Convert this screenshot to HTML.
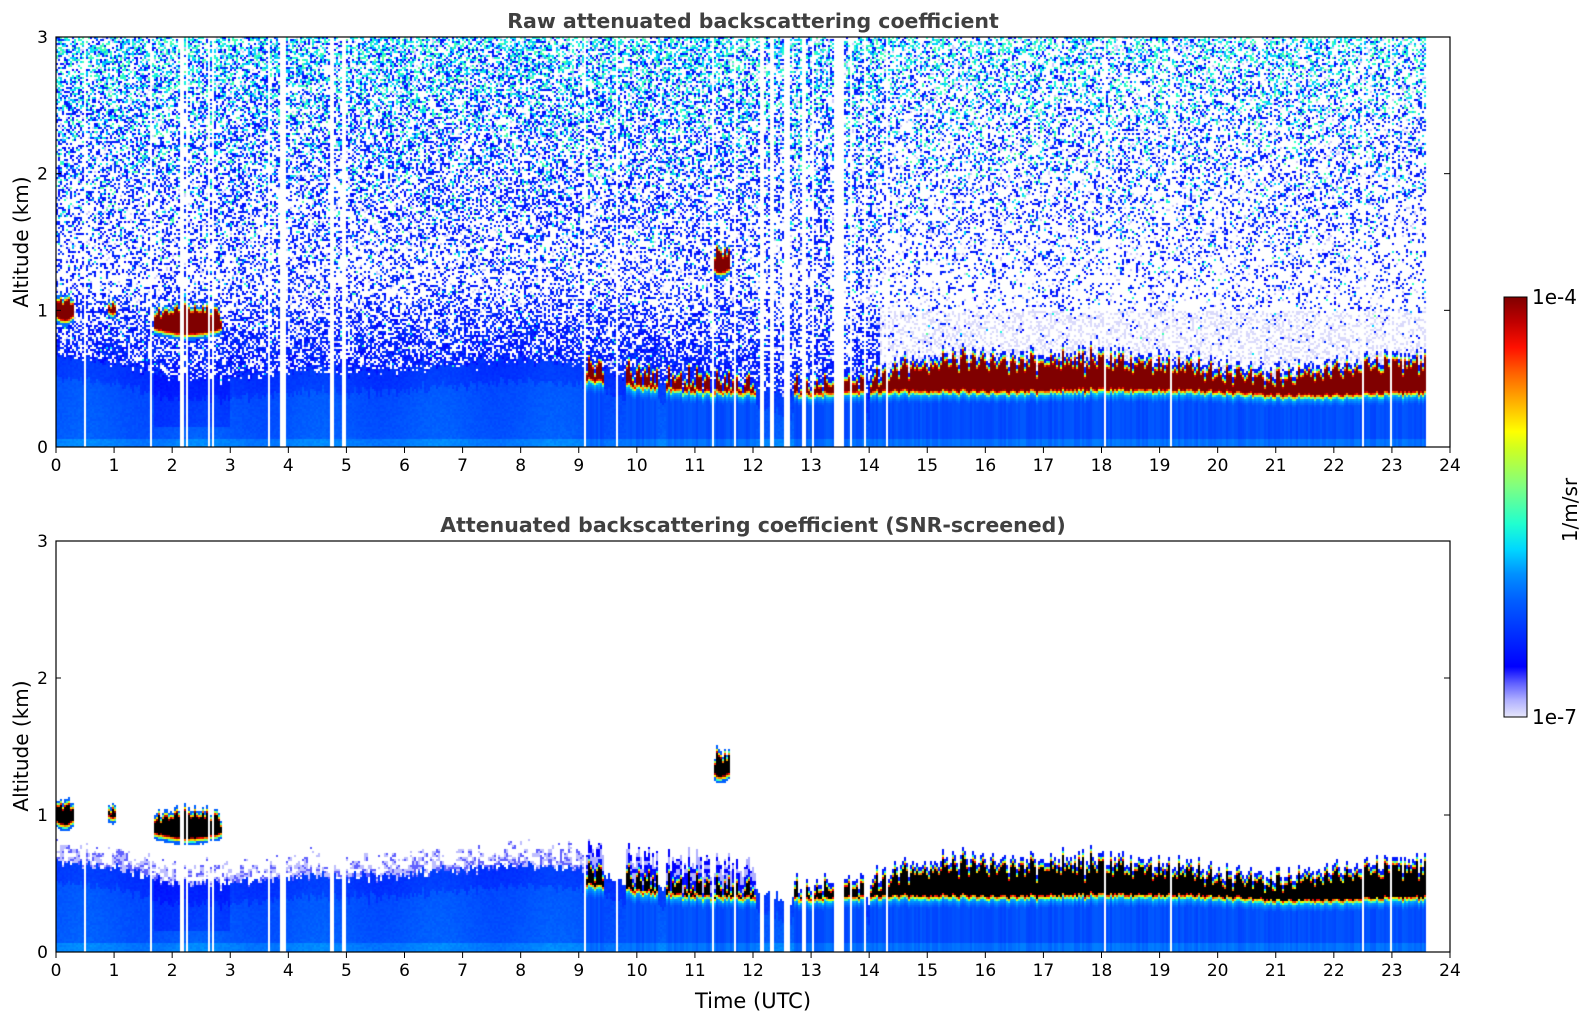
<!DOCTYPE html>
<html><head><meta charset="utf-8">
<style>
html,body{margin:0;padding:0;background:#fff;}
body{width:1595px;height:1020px;position:relative;overflow:hidden;font-family:"DejaVu Sans","Liberation Sans",sans-serif;}
canvas{position:absolute;}
</style></head>
<body>
<canvas id="c1" width="1394" height="410" style="left:56px;top:37px"></canvas>
<canvas id="c2" width="1394" height="411" style="left:56px;top:541px"></canvas>
<svg id="ov" width="1595" height="1020" style="position:absolute;left:0;top:0">
<defs>
<linearGradient id="cbg" x1="0" y1="1" x2="0" y2="0">
<stop offset="0" stop-color="#e6e6fa"/><stop offset="0.04" stop-color="#b0b0ff"/><stop offset="0.08" stop-color="#6060ff"/><stop offset="0.12" stop-color="#0000ff"/><stop offset="0.2" stop-color="#0030ff"/><stop offset="0.28" stop-color="#0060ff"/><stop offset="0.34" stop-color="#0090ff"/><stop offset="0.4" stop-color="#00d8ff"/><stop offset="0.46" stop-color="#20ffd0"/><stop offset="0.55" stop-color="#80ff80"/><stop offset="0.64" stop-color="#d0ff20"/><stop offset="0.68" stop-color="#ffff00"/><stop offset="0.75" stop-color="#ffb000"/><stop offset="0.82" stop-color="#ff6000"/><stop offset="0.88" stop-color="#ff1000"/><stop offset="0.94" stop-color="#c00000"/><stop offset="1" stop-color="#800000"/>
</linearGradient></defs>
<rect x="1504" y="297" width="23" height="420" fill="url(#cbg)" stroke="#000" stroke-width="1"/>
<text x="1532" y="304" font-size="20" font-family="DejaVu Sans, sans-serif">1e-4</text>
<text x="1532" y="724" font-size="20" font-family="DejaVu Sans, sans-serif">1e-7</text>
<text x="1577" y="510" font-size="20" font-family="DejaVu Sans, sans-serif" transform="rotate(-90 1577 510)" text-anchor="middle">1/m/sr</text>
<text x="753" y="28" font-size="20.5" font-weight="bold" fill="#404040" text-anchor="middle" font-family="DejaVu Sans, sans-serif">Raw attenuated backscattering coefficient</text>
<text x="753" y="532" font-size="20.5" font-weight="bold" fill="#404040" text-anchor="middle" font-family="DejaVu Sans, sans-serif">Attenuated backscattering coefficient (SNR-screened)</text>
<text x="28" y="242" font-size="20" text-anchor="middle" transform="rotate(-90 28 242)" font-family="DejaVu Sans, sans-serif">Altitude (km)</text>
<text x="28" y="746" font-size="20" text-anchor="middle" transform="rotate(-90 28 746)" font-family="DejaVu Sans, sans-serif">Altitude (km)</text>
<text x="753" y="1008" font-size="21" text-anchor="middle" font-family="DejaVu Sans, sans-serif">Time (UTC)</text>
<g id="axes"></g>
</svg>
<script>
// ---- data ----
const hours = [0,1,2,3,4,5,6,7,8,9,10,11,12,13,14,15,16,17,18,19,20,21,22,23,24];
const blTop = [0.66,0.62,0.5,0.5,0.55,0.55,0.56,0.6,0.63,0.6,0.5,0.45,0.42,0.38,0.38,0.42,0.42,0.42,0.42,0.42,0.4,0.37,0.37,0.38,0.38];
const lowCloudBase = [0,0,0,0,0,0,0,0,0,0.47,0.42,0.38,0.37,0.36,0.38,0.38,0.38,0.38,0.39,0.39,0.38,0.35,0.35,0.37,0.37];
const lowCloudTop = [0,0,0,0,0,0,0,0,0,0.6,0.56,0.5,0.48,0.47,0.52,0.62,0.66,0.63,0.64,0.63,0.57,0.52,0.58,0.63,0.63];
const lowCloudSpans = [[9.1,9.45],[9.8,10.35],[10.5,12.05],[12.7,13.95],[14.0,23.6]];
const elevStart = [0.0,0.9,1.7,11.3];
const elevEnd = [0.3,1.05,2.85,11.6];
const elevBase = [0.9,0.95,0.8,1.25];
const elevTop = [1.1,1.08,1.03,1.45];
const gapStart = [3.85,4.73,4.93,12.12,12.3,12.55,12.85,13.0,13.4,13.68,13.9];
const gapEnd = [3.97,4.8,4.99,12.2,12.35,12.62,12.9,13.05,13.55,13.72,13.95];
const thinGaps = [0.5,1.65,2.15,2.2,2.25,2.65,2.7,3.68,9.1,9.65,11.3,11.7,14.3,18.05,19.2,22.5,23.0];
const dataEnd = 23.6;
const xTicks = [0,1,2,3,4,5,6,7,8,9,10,11,12,13,14,15,16,17,18,19,20,21,22,23,24];
const yTicks = [0,1,2,3];

// ---- colormap ----
const cmStops=[[0,[230,230,250]],[0.04,[176,176,255]],[0.08,[96,96,255]],[0.12,[0,0,255]],[0.2,[0,48,255]],[0.28,[0,96,255]],[0.34,[0,144,255]],[0.4,[0,216,255]],[0.46,[32,255,208]],[0.55,[128,255,128]],[0.64,[208,255,32]],[0.68,[255,255,0]],[0.75,[255,176,0]],[0.82,[255,96,0]],[0.88,[255,16,0]],[0.94,[192,0,0]],[1,[128,0,0]]];
function cmap(v){ if(v>1.05) return [0,0,0]; v=Math.max(0,Math.min(1,v));
 for(let i=1;i<cmStops.length;i++){ if(v<=cmStops[i][0]){const a=cmStops[i-1],b=cmStops[i];const f=(v-a[0])/(b[0]-a[0]);return [0,1,2].map(k=>Math.round(a[1][k]+f*(b[1][k]-a[1][k])));}} return [128,0,0];}
function interp(arr,t){const i=Math.max(0,Math.min(23,Math.floor(t)));const f=t-i;return arr[i]*(1-f)+arr[i+1]*f;}
function hash(a,b){let h=(a*374761393+b*668265263)^0x5bd1e995;h=Math.imul(h^(h>>>13),1274126177);h=h^(h>>>16);return ((h>>>0)%10000)/10000;}

const X0=56,PW=1394;
function xs(t){return t/24*PW;}
function ys(z,H){return H-z/3*H;}

function value(t,z,i,j,snr){
  if(t>dataEnd) return null;
  for(let k=0;k<gapStart.length;k++) if(t>=gapStart[k]&&t<=gapEnd[k]) return null;
  const rough=0.02*Math.sin(t*37.1)+0.015*Math.sin(t*91.7+1)+0.05*(hash(i,7)-0.5);
  for(let k=0;k<elevStart.length;k++){
    if(t>=elevStart[k]&&t<=elevEnd[k]){
      const m=(elevBase[k]+elevTop[k])/2, hh=(elevTop[k]-elevBase[k])/2;
      const fr=(t-elevStart[k])/(elevEnd[k]-elevStart[k]);
      const shape=0.65+0.35*Math.sin(fr*Math.PI);
      const d=hh*shape+rough*0.6-Math.abs(z-m-rough*0.5);
      if(d>-0.02){ if(d<0) return snr?0.28:0.3; const v=0.45+d/0.03*0.55; return (snr&&d>0.03)?2:Math.min(1,v);}
    }
  }
  let inSpan=false; for(const s of lowCloudSpans) if(t>=s[0]&&t<=s[1]) inSpan=true;
  const bl=interp(blTop,t)+rough;
  if(inSpan){
    const cb=interp(lowCloudBase,t)+rough*0.4, ct=interp(lowCloudTop,t)+rough*2.0;
    if(z>=cb&&z<=ct){const d=Math.min(z-cb,ct-z);const v=0.42+d/0.035*0.58;return (snr&&d>0.03)?2:Math.min(1,v);}
    if(z<cb){const f=z/cb; return 0.25+(f>0.85?0.12*(f-0.85)/0.15:0)+0.04*(hash(i,3)-0.5)+(z<0.06?0.05:0);}
    if(z<ct+0.03) return 0.16;
    if(snr){ if(t<12.5&&z<ct+0.15) return hash(i>>1,j>>1)<0.5?0.12:0.04; return null;}
  } else if(z<bl){
    let v=0.25+0.02*(1-z/bl)+0.025*(hash(i,j)-0.5)+0.015*Math.sin(t*3.1);
    if(z<0.06) v+=0.05;
    if(t>1.7&&t<3&&z>0.15) v-=0.05;
    if(z>bl-0.15) v-=0.04;
    return v;
  }
  if(snr){
    if(t<9.2&&z<bl+0.18){const p=1-(z-bl)/0.18; return hash(i>>1,j>>1)<p*0.8?(hash(i,j)<0.4?0.08:0.03):null;}
    return null;
  }
  let p;
  if(t<14.2){ p= z<1.2?0.7-0.42*(z-bl)/(1.2-bl):0.28+0.26*(z-1.2)/1.8; }
  else { p= z<1.0?0.04:0.12+0.3*(z-1.0)/2.0; }
  const r=hash(i,j);
  if(r<p){ const r2=hash(j,i+11); const top=Math.pow(z/3,2.5);
    if(r2<top*0.7) return 0.36+0.16*hash(i+5,j);
    return 0.12+0.1*hash(i+3,j+9); }
  if(t>=14.2&&z<1.0&&r<0.35) return 0.01;
  if(r<p+0.04) return 0.02;
  return null;
}
function draw(id,snr){
  const c=document.getElementById(id),ctx=c.getContext('2d');const W=c.width,H=c.height;
  const img=ctx.createImageData(W,H);const d=img.data;d.fill(255);
  const cw=2,ch=2;
  for(let i=0;i*cw<W;i++){const t=(i*cw+1)/W*24;
    let thin=false; for(const g of thinGaps) if(Math.abs(t-g)<0.017) thin=true;
    for(let j=0;j*ch<H;j++){const z=3-(j*ch+1)/H*3;
      if(thin) continue;
      const v=value(t,z,i,j,snr); if(v===null) continue;
      const col=cmap(v);
      for(let a=0;a<cw;a++)for(let b=0;b<ch;b++){const x=i*cw+a,y=j*ch+b;if(x>=W||y>=H)continue;const o=(y*W+x)*4;d[o]=col[0];d[o+1]=col[1];d[o+2]=col[2];d[o+3]=255;}
    }}
  ctx.putImageData(img,0,0);
}
draw('c1',false);draw('c2',true);

const g=document.getElementById('axes');const NS='http://www.w3.org/2000/svg';
function mk(tag,attrs,txt){const e=document.createElementNS(NS,tag);for(const k in attrs)e.setAttribute(k,attrs[k]);if(txt!==undefined)e.textContent=txt;g.appendChild(e);return e;}
[[37,410,'top'],[541,411,'bottom']].forEach(([top,H,nm])=>{
  const fr=mk('rect',{x:X0,y:top,width:PW,height:H,fill:'none',stroke:'#000','stroke-width':1.2});
  
  
  xTicks.forEach(v=>{const x=X0+xs(v);
    const l=mk('line',{x1:x,x2:x,y1:top+H,y2:top+H+6,stroke:'#000','stroke-width':1});
    
    
    const tx=mk('text',{x:x,y:top+H+24,'font-size':17,'text-anchor':'middle','font-family':'DejaVu Sans, sans-serif'},String(v));
    
    
  });
  yTicks.forEach(v=>{const y=top+ys(v,H);
    const l=mk('line',{x1:X0+PW-6,x2:X0+PW,y1:y,y2:y,stroke:'#000','stroke-width':1});
    
    
    const l2=mk('line',{x1:X0,x2:X0+5,y1:y,y2:y,stroke:'#000','stroke-width':1});
    
    
    const tx=mk('text',{x:X0-8,y:y+6,'font-size':17,'text-anchor':'end','font-family':'DejaVu Sans, sans-serif'},String(v));
    
    
  });
});
</script>
</body></html>
